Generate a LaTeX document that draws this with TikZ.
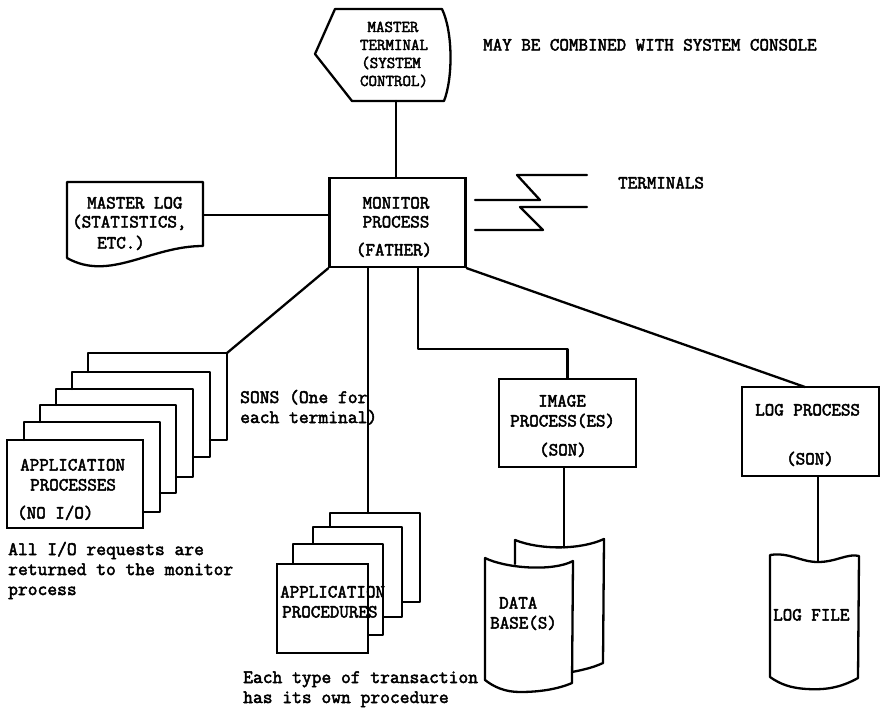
\documentclass[tikz,border=0pt]{standalone}
\usepackage{fontspec}
\setmonofont{Latin Modern Mono}[AutoFakeBold=2.6]
\begin{document}
\begin{tikzpicture}[x=1pt,y=-1pt,
  ln/.style={line width=2.3pt, line join=round, line cap=round},
  fine/.style={line width=1.5pt, line join=round, line cap=round},
  box/.style={draw, rectangle, inner sep=0pt, line width=2.3pt},
  thinbox/.style={draw, rectangle, inner sep=0pt, line width=1.5pt},
  lbl/.style={font=\fontsize{18.5}{20}\selectfont\ttfamily\bfseries, inner sep=0pt, text height=11pt, text depth=0pt},
  smalllbl/.style={font=\fontsize{16.5}{18}\selectfont\ttfamily\bfseries, inner sep=0pt, text height=10pt, text depth=0pt},
  note/.style={font=\fontsize{19}{20}\selectfont\ttfamily\bfseries, inner sep=0pt, text height=10pt, text depth=0pt, anchor=west}]
\useasboundingbox (0,0) rectangle (880,713);

% ---------- master terminal (display symbol) ----------
\draw[ln] (335,9) -- (442,9) .. controls (453,32) and (453,78) .. (444,101)
  -- (352,101) -- (315,54) -- cycle;
\coordinate (mt-s) at (396,101);
\node[smalllbl] (mtA) at (393,27) {MASTER};
\node[smalllbl] (mtB) at (394,45) {TERMINAL};
\node[smalllbl] (mtC) at (391,63) {(SYSTEM};
\node[smalllbl] (mtD) at (394,81) {CONTROL)};
\node[lbl, anchor=west] (mtNote) at (483,45) {MAY BE COMBINED WITH SYSTEM CONSOLE};

% ---------- monitor process ----------
\node[box, minimum width=136, minimum height=89] (mon) at (397.5,222.5) {};
\node[lbl] (monA) at (396,203) {MONITOR};
\node[lbl] (monB) at (396,222) {PROCESS};
\node[lbl] (monC) at (394,250) {(FATHER)};
\draw[ln] (mt-s) -- (mt-s |- mon.north);

% ---------- master log (document symbol) ----------
\draw[ln] (67,258) -- (67,182) -- (203,182) -- (203,246)
  .. controls (150,246) and (110,282) .. (67,258);
\coordinate (ml-e) at (203,215);
\node[lbl, anchor=west] (mlA) at (87,203) {MASTER LOG};
\node[lbl, anchor=west] (mlB) at (72,222) {(STATISTICS,};
\node[lbl, anchor=west] (mlC) at (97,243) {ETC.)};
\draw[ln] (ml-e) -- (ml-e -| mon.west);

% ---------- terminals (communication links) ----------
\draw[ln] (587,175) -- (517,175) -- (540,200) -- (475,200);
\draw[ln] (587,207) -- (520,207) -- (543,230) -- (475,230);
\node[lbl, anchor=west] (term) at (618,183) {TERMINALS};

% ---------- application processes (stack of sons) ----------
\foreach \l/\t/\r/\b/\pt/\pr in {24/422/160/512/440/143, 40/405/176/493/422/160,
    56/389/193/477/405/176, 72/372/210/457/389/193, 88/353/227/440/372/210}
  \draw[ln] (\l,\pt) -- (\l,\t) -- (\r,\t) -- (\r,\b) -- (\pr,\b);
\node[box, minimum width=136, minimum height=88] (ap) at (75,484) {};
\coordinate (ap-tr) at (227,353);
\node[lbl, anchor=west] (apA) at (20,465) {APPLICATION};
\node[lbl, anchor=west] (apB) at (30,485) {PROCESSES};
\node[lbl, anchor=west] (apC) at (17,513) {(NO I/O)};
\draw[ln] (mon.south west) -- (ap-tr);
\node[note] (sonsA) at (240,398) {SONS (One for};
\node[note] (sonsB) at (240,418) {each terminal)};
\node[note] (ioA) at (8,550) {All I/O requests are};
\node[note] (ioB) at (8,570) {returned to the monitor};
\node[note] (ioC) at (8,590) {process};

% ---------- application procedures ----------
\foreach \l/\t/\r/\b/\pt/\pr in {293/544/383/635/564/368, 313/527/402/617/544/383,
    330/513/420/602/527/402}
  \draw[fine] (\l,\pt) -- (\l,\t) -- (\r,\t) -- (\r,\b) -- (\pr,\b);
\node[thinbox, minimum width=91, minimum height=89] (pc) at (322.5,608.5) {};
\coordinate (pc-top) at (368,513);
\node[lbl, anchor=west] (pcA) at (280,592) {APPLICATION};
\node[lbl, anchor=west] (pcB) at (282,612) {PROCEDURES};
\draw[ln] (pc-top |- mon.south) -- (pc-top);
\node[note] (trA) at (243,678) {Each type of transaction};
\node[note] (trB) at (243,698) {has its own procedure};

% ---------- image process and data base ----------
\node[box, minimum width=137, minimum height=88] (img) at (567.5,423) {};
\node[lbl] (imgA) at (562,401) {IMAGE};
\node[lbl, anchor=west] (imgB) at (510,421) {PROCESS(ES)};
\node[lbl] (imgC) at (563,450) {(SON)};
\draw[ln] (mon.south -| 418,0) -- (418,349) -- (img.north |- 0,349) -- (img.north);

% data base: two sheets, the back one partly hidden
\draw[ln] (515,564) -- (515,540) .. controls (540,550) and (580,550) .. (604,539)
  -- (603,663) .. controls (592,668) and (582,670) .. (572,672);
\coordinate (db-top) at (564,547.5);
\draw[ln] (485,558) .. controls (505,568) and (552,572) .. (573,561)
  -- (572,683) .. controls (558,689) and (540,692) .. (520,692)
  .. controls (505,692) and (494,687) .. (485,680) -- cycle;
\node[lbl, anchor=west] (dbA) at (499,603) {DATA};
\node[lbl, anchor=west] (dbB) at (490,623) {BASE(S)};
\draw[ln] (img.south -| 564,0) -- (db-top);

% ---------- log process and log file ----------
\node[box, minimum width=137, minimum height=89] (lp) at (810.5,431.5) {};
\node[lbl, anchor=west] (lpA) at (755,410) {LOG PROCESS};
\node[lbl] (lpB) at (810,459) {(SON)};
\coordinate (lp-in) at (805,387);
\draw[ln] (mon.south east) -- (lp-in);

\draw[ln] (770,555) .. controls (790,552) and (800,562) .. (818,562)
  .. controls (836,562) and (848,553) .. (859,556)
  -- (858,678) .. controls (840,688) and (825,690) .. (807,689)
  .. controls (790,688) and (780,684) .. (770,677) -- cycle;
\coordinate (lf-top) at (818,562);
\node[lbl, anchor=west] (lfA) at (773,615) {LOG FILE};
\draw[ln] (lp.south -| 818,0) -- (lf-top);
\end{tikzpicture}
\end{document}
